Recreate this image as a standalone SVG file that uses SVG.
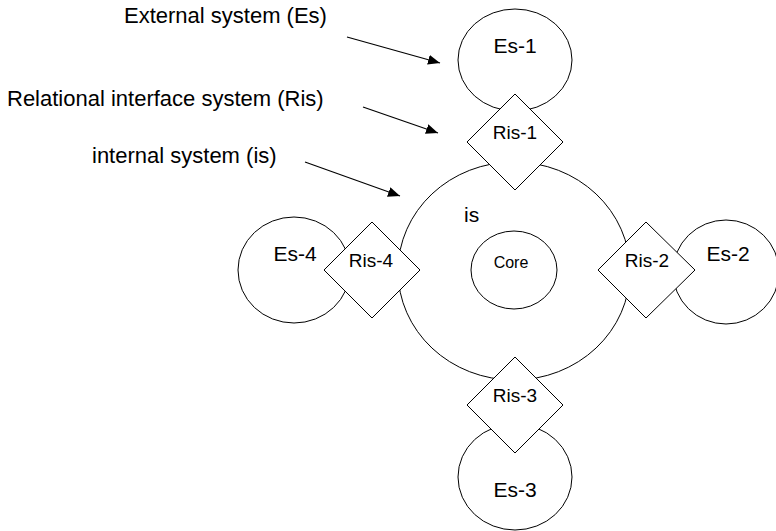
<svg xmlns="http://www.w3.org/2000/svg" width="776" height="531" viewBox="0 0 776 531">
  <defs>
    <style>
      .shape { fill: #ffffff; stroke: #000000; stroke-width: 1; }
      .conn { fill: none; stroke: #000000; stroke-width: 1.2; }
      text { font-family: "Liberation Sans", Arial, sans-serif; fill: #000000; }
      .caption { font-size: 22px; }
      .es { font-size: 21px; text-anchor: middle; }
      .ris { font-size: 19px; text-anchor: middle; }
      .core { font-size: 16px; text-anchor: middle; }
    </style>
    <marker id="arrow" viewBox="0 0 12 10" refX="12" refY="5" markerWidth="12" markerHeight="10" markerUnits="userSpaceOnUse" orient="auto">
      <path d="M0,0 L12,5 L0,10 Z" fill="#000000"/>
    </marker>
  </defs>

  <!-- captions -->
  <g id="captions">
    <text class="caption" x="124" y="23">External system (Es)</text>
    <text class="caption" x="7" y="106">Relational interface system (Ris)</text>
    <text class="caption" x="92" y="163">internal system (is)</text>
  </g>

  <!-- pointers from captions -->
  <g id="connectors">
    <line class="conn" x1="347" y1="37" x2="440" y2="63" marker-end="url(#arrow)"/>
    <line class="conn" x1="363" y1="107" x2="438" y2="133" marker-end="url(#arrow)"/>
    <line class="conn" x1="305" y1="162" x2="400" y2="196" marker-end="url(#arrow)"/>
  </g>

  <!-- external systems -->
  <g id="es-1">
    <ellipse class="shape" cx="515" cy="60" rx="57" ry="51"/>
    <text class="es" x="515" y="53">Es-1</text>
  </g>
  <g id="es-2">
    <ellipse class="shape" cx="726" cy="272" rx="53" ry="52"/>
    <text class="es" x="728" y="261">Es-2</text>
  </g>
  <g id="es-3">
    <ellipse class="shape" cx="515" cy="477" rx="57" ry="53"/>
    <text class="es" x="515" y="497">Es-3</text>
  </g>
  <g id="es-4">
    <ellipse class="shape" cx="294" cy="270" rx="56" ry="53"/>
    <text class="es" x="295" y="261">Es-4</text>
  </g>

  <!-- internal system with core -->
  <g id="is">
    <ellipse class="shape" cx="514" cy="271" rx="116" ry="109"/>
    <text x="464" y="222" style="font-size:21px">is</text>
  </g>
  <g id="core">
    <ellipse class="shape" cx="514" cy="270" rx="43" ry="39"/>
    <text class="core" x="511" y="268">Core</text>
  </g>

  <!-- relational interface systems -->
  <g id="ris-1">
    <polygon class="shape" points="515,94 563,142 515,190 467,142"/>
    <text class="ris" x="515" y="139">Ris-1</text>
  </g>
  <g id="ris-2">
    <polygon class="shape" points="646,222 695,270 646,318 598,270"/>
    <text class="ris" x="647" y="267">Ris-2</text>
  </g>
  <g id="ris-3">
    <polygon class="shape" points="515,357 563,405 515,453 467,405"/>
    <text class="ris" x="515" y="402">Ris-3</text>
  </g>
  <g id="ris-4">
    <polygon class="shape" points="372,222 420,270 372,318 324,270"/>
    <text class="ris" x="371" y="267">Ris-4</text>
  </g>
</svg>
